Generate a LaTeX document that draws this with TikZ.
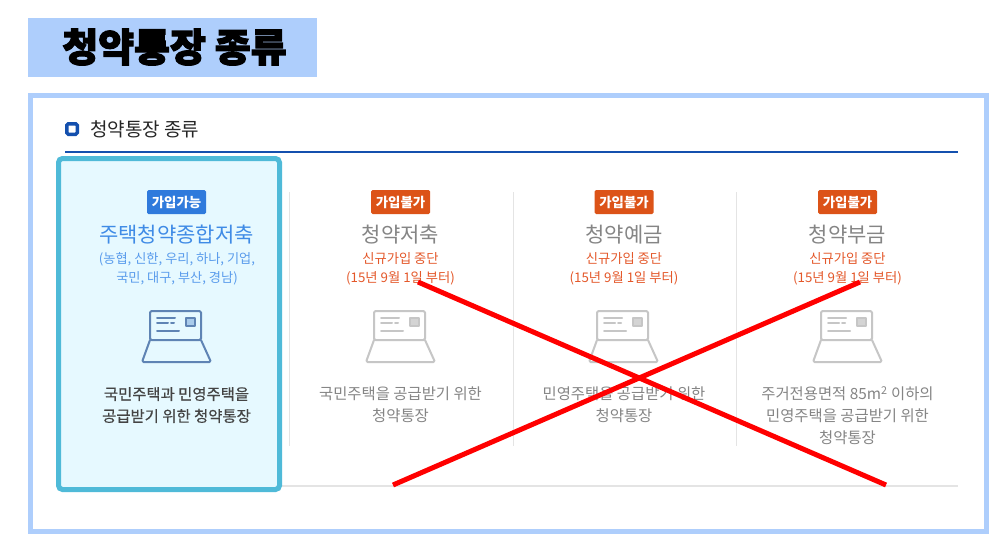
\documentclass[tikz,border=0pt]{standalone}
\usepackage{fontspec}
\setmainfont{Noto Sans CJK KR}
\newfontfamily\heavy[BoldFeatures={FakeBold=3}]{Noto Sans CJK KR}
\newfontfamily\medf[FakeBold=0.5]{Noto Sans CJK KR}
\definecolor{framebl}{HTML}{AECEFC}
\definecolor{navy}{HTML}{1450AE}
\definecolor{teal}{HTML}{4FBAD8}
\definecolor{paleb}{HTML}{E6F9FF}
\definecolor{badgeb}{HTML}{2F7ADC}
\definecolor{badgeo}{HTML}{DC5318}
\definecolor{textb}{HTML}{3F8BE6}
\definecolor{subb}{HTML}{5A9CEC}
\definecolor{texto}{HTML}{E4582A}
\definecolor{greyt}{HTML}{858585}
\definecolor{darkt}{HTML}{444444}
\definecolor{rule}{HTML}{E4E4E4}
\definecolor{iconb}{HTML}{5F84B4}
\definecolor{iconf}{HTML}{A9CBEB}
\definecolor{icong}{HTML}{C6C6C6}
\definecolor{icongf}{HTML}{D4D4D4}
\tikzset{
  x=1pt,y=-1pt,
  txt/.style={inner sep=0pt,align=center,anchor=center},
  badge/.style={txt,rounded corners=1.5pt,minimum width=59pt,minimum height=24pt,text=white,font=\bfseries\fontsize{13.4}{15}\selectfont},
  ttl/.style={txt,font=\fontsize{21}{24}\selectfont},
  small/.style={txt,font=\fontsize{13.3}{19}\selectfont},
  desc/.style={txt,font=\fontsize{15.4}{22}\selectfont,text=greyt},
  vsep/.style={draw=rule,line width=1pt},
  cross/.style={draw=red,line width=5pt},
}
\newcommand{\laptopicon}[3]{%
  \begin{scope}[shift={(#1,0)},line join=round,line cap=round,line width=2pt]
    \draw[#2,rounded corners=1.5pt] (150,340) -- (150,311) -- (201,311) -- (201,340) -- cycle;
    \draw[#2,rounded corners=1.5pt] (150,340) -- (142,362) -- (211,362) -- (201,340);
    \draw[#2] (157,318) -- (175,318) (157,323) -- (168,323) (171,323) -- (174,323) (157,331) -- (179,331);
    \draw[#2,fill=#3,line width=1.6pt] (186,318) rectangle (195,326);
  \end{scope}}
\begin{document}
\begin{tikzpicture}
\useasboundingbox (0,0) rectangle (1008,552);
\fill[white] (0,0) rectangle (1008,552);
% title
\fill[framebl] (28,18) rectangle (317,77);
\node[txt,font=\heavy\bfseries\fontsize{39}{44}\selectfont] (title) at (174.5,47) {청약통장 종류};
% frame
\draw[framebl,line width=5pt] (30.5,95.5) rectangle (986.5,531);
% header
\node[draw=navy,fill=white,line width=3.5pt,rounded corners=1.5pt,inner sep=0pt,minimum size=10.5pt] (bullet) at (72,129) {};
\node[txt,anchor=west,font=\fontsize{19}{22}\selectfont,text=black!85] (head) at (90,129) {청약통장 종류};
\fill[navy] (65,151) rectangle (958,153);
% separators
\draw[draw=rule,line width=2pt] (60,485.5) -- (958,485.5);
\draw[vsep] (289,192) -- (289,446);
\draw[vsep] (513,192) -- (513,446);
\draw[vsep] (736,192) -- (736,446);
% card
\draw[draw=teal,fill=paleb,line width=5pt,rounded corners=4pt] (58.5,158.5) rectangle (279.5,489.5);
\node[badge,fill=badgeb] (b1) at (176.5,202) {가입가능};
\node[ttl,text=textb] (t1) at (176.5,235) {주택청약종합저축};
\node[small,text=subb,font=\fontsize{13.2}{19}\selectfont] (s1) at (177,269) {(농협, 신한, 우리, 하나, 기업,\\국민, 대구, 부산, 경남)};
\laptopicon{0}{iconb}{iconf}
\node[txt,font=\medf\fontsize{15.4}{22}\selectfont,text=darkt] (d1) at (176.5,405) {국민주택과 민영주택을\\공급받기 위한 청약통장};
% col 2
\node[badge,fill=badgeo] (b2) at (400.5,202) {가입불가};
\node[ttl,text=greyt] (t2) at (400.5,235) {청약저축};
\node[small,text=texto] (s2) at (400.5,269) {신규가입 중단\\(15년 9월 1일 부터)};
\laptopicon{224}{icong}{icongf}
\node[desc] (d2) at (400.5,405) {국민주택을 공급받기 위한\\청약통장};
% col 3
\node[badge,fill=badgeo] (b3) at (624,202) {가입불가};
\node[ttl,text=greyt] (t3) at (624,235) {청약예금};
\node[small,text=texto] (s3) at (624,269) {신규가입 중단\\(15년 9월 1일 부터)};
\laptopicon{447}{icong}{icongf}
\node[desc] (d3) at (624,405) {민영주택을 공급받기 위한\\청약통장};
% col 4
\node[badge,fill=badgeo] (b4) at (847.5,202) {가입불가};
\node[ttl,text=greyt] (t4) at (847.5,235) {청약부금};
\node[small,text=texto] (s4) at (847.5,269) {신규가입 중단\\(15년 9월 1일 부터)};
\laptopicon{671}{icong}{icongf}
\node[desc] (d4) at (847.5,416) {주거전용면적 85m\textsuperscript{2} 이하의\\민영주택을 공급받기 위한\\청약통장};
% red cross
\coordinate (c1) at (418,282);
\coordinate (c2) at (886,485);
\coordinate (c3) at (860,282);
\coordinate (c4) at (393,485);
\draw[cross] (c1) -- (c2);
\draw[cross] (c3) -- (c4);
\end{tikzpicture}
\end{document}
